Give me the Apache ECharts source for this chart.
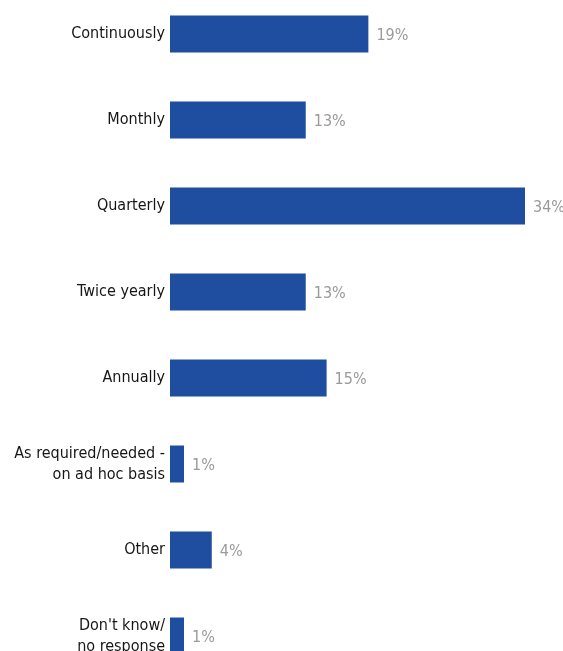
<!DOCTYPE html>
<html>
<head>
<meta charset="utf-8">
<script src="https://cdn.jsdelivr.net/npm/echarts@6/dist/echarts.min.js"></script>
<style>
  html, body { margin: 0; padding: 0; background: #fff; overflow: hidden; width: 563px; height: 651px; }
  /* the plot runs past the bottom edge, so the last row is clipped */
  #chart { position: absolute; left: 0; top: -9px; width: 563px; height: 688px; }
</style>
</head>
<body>
<div id="chart"></div>
<script>
// Review frequency responses (share of respondents, %)
const categories = [
  'Continuously',
  'Monthly',
  'Quarterly',
  'Twice yearly',
  'Annually',
  'As required/needed -\non ad hoc basis',
  'Other',
  "Don't know/\nno response"
];
const shares = [19, 13, 34, 13, 15, 1, 4, 1];

const FONT = '"Liberation Sans Narrow", "DejaVu Sans Condensed", sans-serif';

const chart = echarts.init(document.getElementById('chart'), null, { renderer: 'canvas' });

chart.setOption({
  animation: false,
  grid: { left: 170, right: 38, top: 0, bottom: 0, containLabel: false },
  xAxis: {
    type: 'value',
    min: 0,
    max: 34,
    show: false
  },
  yAxis: {
    type: 'category',
    data: categories,
    inverse: true,
    axisLine: { show: false },
    axisTick: { show: false },
    splitLine: { show: false },
    axisLabel: {
      margin: 5,
      color: '#161616',
      fontSize: 16,
      lineHeight: 21,
      padding: [3, 0, 0, 0],
      fontFamily: FONT,
      align: 'right'
    }
  },
  series: [{
    type: 'bar',
    data: shares,
    barWidth: 37,
    barMinHeight: 14,
    itemStyle: { color: '#1f4ea0' },
    label: {
      show: true,
      position: 'right',
      distance: 8,
      offset: [0, 2],
      formatter: '{c}%',
      color: '#9a9a9a',
      fontSize: 16,
      fontFamily: FONT
    }
  }]
});
</script>
</body>
</html>
